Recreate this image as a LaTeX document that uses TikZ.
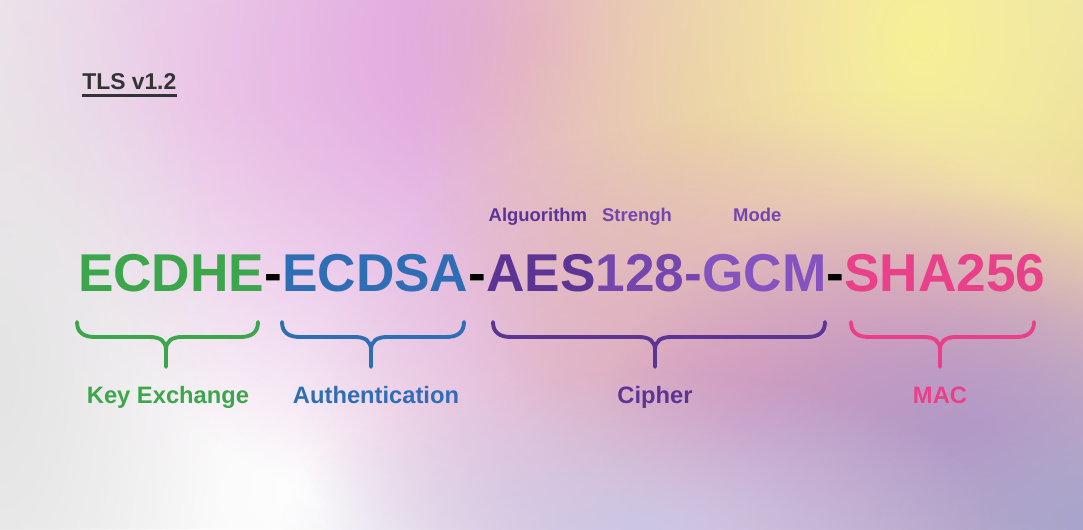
\documentclass[tikz,border=0pt]{standalone}
\usepackage{fontspec}
\setmainfont{Liberation Sans}
\usetikzlibrary{positioning,fadings}

\definecolor{kxgreen}{HTML}{3BA64C}
\definecolor{aublue}{HTML}{2F6DB5}
\definecolor{aespurple}{HTML}{5C3494}
\definecolor{bitpurple}{HTML}{7446AE}
\definecolor{gcmpurple}{HTML}{8453BF}
\definecolor{macpink}{HTML}{E9408A}
\definecolor{tlsgrey}{HTML}{333333}
% background tones
\definecolor{bgbase}{HTML}{ECEAEC}
\definecolor{bglight}{HTML}{F3DCEF}
\definecolor{bglilac}{HTML}{DF9CDC}
\definecolor{bgrose}{HTML}{DEB0BC}
\definecolor{bgyellow}{HTML}{F7F096}
\definecolor{bgtan}{HTML}{E0C6A8}
\definecolor{bgpeach}{HTML}{ECCDB4}
\definecolor{bgpink}{HTML}{D9A2C4}
\definecolor{bgviolet}{HTML}{BE8EC2}
\definecolor{bgblue}{HTML}{A8A4CC}
\definecolor{bglav}{HTML}{CCC6E4}
\definecolor{bggrey}{HTML}{E4E4E4}

\tikzstyle{cipher}=[font=\bfseries\fontsize{30.3}{36}\selectfont,inner sep=0pt,outer sep=0pt]
\tikzstyle{part}=[font=\bfseries\fontsize{13.5}{16}\selectfont,inner sep=0pt]
\tikzstyle{sub}=[font=\bfseries\fontsize{10.5}{12}\selectfont,inner sep=0pt]
\tikzstyle{brc}=[line width=2.2pt,line cap=round,line join=round]

\tikzfading[name=blob,inner color=transparent!0,outer color=transparent!100]

% colour blob: colour, centre x, centre y, x radius, y radius
\newcommand\blob[5]{\fill[#1,path fading=blob] ({#2-2*#4},{#3-2*#5}) rectangle ({#2+2*#4},{#3+2*#5});}
% curly brace: colour, left, stem, right
\newcommand\tlsbrace[4]{%
\draw[brc,#1] (#2,322) .. controls (#2,332) and ({#2+6},337) .. ({#2+18},337) -- ({#3-16},337)
    .. controls ({#3-6},337) and (#3,341) .. (#3,350) -- (#3,367);
\draw[brc,#1] (#4,322) .. controls (#4,332) and ({#4-6},337) .. ({#4-18},337) -- ({#3+16},337)
    .. controls ({#3+6},337) and (#3,341) .. (#3,350);}

\begin{document}
\begin{tikzpicture}[x=0.02cm,y=-0.02cm]
\useasboundingbox (0,0) rectangle (1083,529);
% background
\begin{scope}
\clip (0,0) rectangle (1083,529);
\fill[bgbase] (0,0) rectangle (1083,529);
\blob{bglight}{280}{120}{320}{220}
\blob{white}{330}{490}{330}{200}
\blob{bglilac}{540}{40}{270}{250}
\blob{bgrose}{700}{150}{130}{170}
\blob{bgtan}{1083}{170}{110}{190}
\blob{bgyellow}{920}{40}{260}{320}
\blob{bgpeach}{860}{330}{180}{120}
\blob{bgpink}{740}{420}{220}{150}
\blob{bgviolet}{960}{430}{180}{120}
\blob{bgblue}{1083}{520}{200}{120}
\blob{bglav}{640}{529}{180}{80}
\blob{bggrey}{0}{380}{110}{260}
\end{scope}

% title
\node[font=\bfseries\fontsize{13}{16}\selectfont,text=tlsgrey,anchor=base west,inner sep=0pt] (tls) at (82,89) {TLS v1.2};
\draw[tlsgrey,line width=1.8pt] ([yshift=-3.6pt]tls.base west) -- ([yshift=-3.6pt]tls.base east);

% suite name
\node[cipher,text=kxgreen,anchor=base west] (ecdhe) at (78,291) {ECDHE};
\node[cipher,base right=0pt of ecdhe] (dash1) {-};
\node[cipher,text=aublue,base right=0pt of dash1] (ecdsa) {ECDSA};
\node[cipher,base right=0pt of ecdsa] (dash2) {-};
\node[cipher,text=aespurple,base right=0pt of dash2] (aes) {AES};
\node[cipher,text=bitpurple,base right=0pt of aes] (bits) {128};
\node[cipher,text=bitpurple,base right=0pt of bits] (dash3) {-};
\node[cipher,text=gcmpurple,base right=0pt of dash3] (gcm) {GCM};
\node[cipher,base right=0pt of gcm] (dash4) {-};
\node[cipher,text=macpink,base right=0pt of dash4] (sha) {SHA256};

% above
\node[sub,text=aespurple,above=0.65cm of aes,anchor=base,xshift=-0.06cm] (alg) {Alguorithm};
\node[sub,text=bitpurple,above=0.65cm of bits,anchor=base,xshift=-0.06cm] (strength) {Strengh};
\node[sub,text=bitpurple,above=0.65cm of gcm,anchor=base,xshift=-0.14cm] (mode) {Mode};

% braces
\tlsbrace{kxgreen}{77}{166}{258}
\tlsbrace{aublue}{282}{371}{464}
\tlsbrace{aespurple}{493}{655}{825}
\tlsbrace{macpink}{851}{940}{1034}

% below
\node[part,text=kxgreen,anchor=base] (kx) at (168,403) {Key Exchange};
\node[part,text=aublue,anchor=base] (auth) at (376,403) {Authentication};
\node[part,text=aespurple,anchor=base] (ciph) at (655,403) {Cipher};
\node[part,text=macpink,anchor=base] (mac) at (940,403) {MAC};
\end{tikzpicture}
\end{document}
